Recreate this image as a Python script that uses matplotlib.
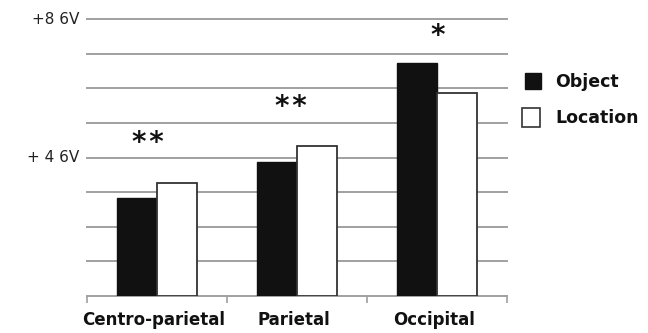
import numpy as np
import matplotlib
matplotlib.use("Agg")
import matplotlib.pyplot as plt
from matplotlib.patches import Rectangle

# Mean amplitude per region, in grid units (4 units = +4 uV)
regions = ["Centro-parietal", "Parietal", "Occipital"]
object_vals = [2.82, 3.88, 6.74]
location_vals = [3.25, 4.33, 5.88]
stars = ["*\u200a*", "*\u200a*", "*"]
star_y = [4.42, 5.47, 7.52]
ytick_vals = [4, 8]
ytick_labels = ["+ 4 6V", "+8 6V"]

fig = plt.figure(figsize=(6.48, 3.33), dpi=100)
ax = fig.add_axes([0.1338, 0.112, 0.6482, 0.830])

x = np.arange(len(regions))
w = 0.2857
ax.bar(x - w / 2, object_vals, w, color="#111111", edgecolor="#111111",
       linewidth=1.0, zorder=3, label="Object")
ax.bar(x + w / 2, location_vals, w, color="white", edgecolor="#333333",
       linewidth=1.3, zorder=3, label="Location")

ax.set_xlim(-0.5, len(regions) - 0.5)
ax.set_ylim(0, 8)

# horizontal grid lines
for level in range(0, 9):
    ax.axhline(level, color="#a0a0a0", lw=1.4, zorder=1, clip_on=False)

for s in ax.spines.values():
    s.set_visible(False)

# category boundary ticks under the baseline
ax.set_xticks(np.arange(-0.5, len(regions), 1.0))
ax.set_xticklabels([])
ax.tick_params(axis="x", length=5, width=1.2, color="#a0a0a0", direction="out")
ax.set_yticks([])

for i, name in enumerate(regions):
    ax.text(i - 0.02, -0.45, name, ha="center", va="top", fontsize=12,
            fontweight="bold", color="#111111")

for v, lab in zip(ytick_vals, ytick_labels):
    ax.text(-0.55, v, lab, ha="right", va="center", fontsize=11,
            color="#222222")

star_dx = [-0.06, -0.04, 0.01]
for i, (s, yv, dx) in enumerate(zip(stars, star_y, star_dx)):
    ax.text(i + dx, yv, s, ha="center", va="center", fontsize=20,
            fontweight="bold", color="#111111")

# legend drawn as squares plus labels
leg_x = 2.63
ax.add_patch(Rectangle((leg_x, 5.97), 0.115, 0.48, facecolor="#111111",
                       edgecolor="#111111", clip_on=False))
ax.add_patch(Rectangle((leg_x - 0.02, 4.87), 0.13, 0.56, facecolor="white",
                       edgecolor="#333333", lw=1.2, clip_on=False))
ax.text(leg_x + 0.215, 6.2, "Object", ha="left", va="center", fontsize=12.5,
        fontweight="bold", color="#111111")
ax.text(leg_x + 0.215, 5.14, "Location", ha="left", va="center",
        fontsize=12.5, fontweight="bold", color="#111111")

fig.savefig("out.png", dpi=100, facecolor="white")
